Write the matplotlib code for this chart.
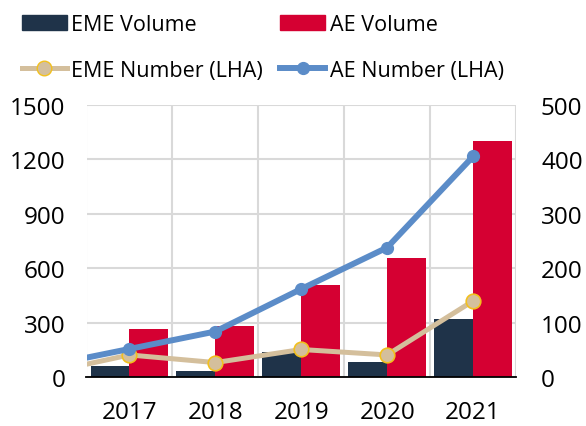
import numpy as np
from matplotlib import pyplot as plt
from matplotlib.lines import Line2D
from matplotlib.patches import Patch

plt.rcParams['font.family'] = ['Open Sans', 'DejaVu Sans']

years = ['2017', '2018', '2019', '2020', '2021']
eme_volume = [60, 33, 138, 83, 321]
ae_volume = [266, 284, 508, 655, 1299]

# line series include a 2016 point which is clipped at the left edge
line_years = [2016, 2017, 2018, 2019, 2020, 2021]
eme_number = [7, 41, 27, 51, 41, 140]
ae_number = [20, 52, 84, 162, 238, 405]

navy = '#1f3349'
red = '#d50032'
tan = '#d4bf9c'
gold = '#f2c01e'
blue = '#5b8cc8'

fig = plt.figure(figsize=(5.86, 4.27), dpi=100)
ax = fig.add_axes([86.5 / 586, 1 - 378.3 / 427, (516 - 86.5) / 586, (378.3 - 105.7) / 427])
ax2 = ax.twinx()

x = np.arange(len(years))
w = 0.453
ax.bar(x - w / 2, eme_volume, w, color=navy, zorder=2)
ax.bar(x + w / 2, ae_volume, w, color=red, zorder=2)

xl = np.array(line_years) - 2017
ax2.plot(xl, eme_number, color=tan, lw=3.6, marker='o', ms=10.5,
         mfc=tan, mec=gold, mew=1.2, clip_on=True)
ax2.plot(xl, ae_number, color=blue, lw=4.3, marker='o', ms=8.5,
         mfc=blue, mec=blue, clip_on=True)

ax.set_xlim(-0.5, 4.5)
ax2.set_xlim(-0.5, 4.5)
ax.set_ylim(0, 1500)
ax2.set_ylim(0, 500)
ax.set_yticks(range(0, 1501, 300))
ax2.set_yticks(range(0, 501, 100))
ax.set_xticks(x)
ax.set_xticklabels(years)

# category boundary gridlines and horizontal gridlines
for b in np.arange(-0.5, 5, 1):
    ax.axvline(b, color='#d9d9d9', lw=1.5, zorder=0)
ax.yaxis.grid(True, color='#d9d9d9', lw=1.5, zorder=0)
ax.set_axisbelow(True)

for a in (ax, ax2):
    for s in ('top', 'left', 'right'):
        a.spines[s].set_visible(False)
    a.tick_params(length=0, labelsize=17.5)
ax.spines['bottom'].set_visible(False)
ax2.spines['bottom'].set_color('black')
ax2.spines['bottom'].set_linewidth(1.3)
ax.tick_params(axis='y', pad=15)
ax2.tick_params(axis='y', pad=18)
ax.tick_params(axis='x', pad=16)
for lab in ax2.get_yticklabels():
    lab.set_horizontalalignment('left')

handles = [
    Patch(color=navy, label='EME Volume'),
    Line2D([], [], color=tan, lw=3.6, marker='o', ms=10.5, mfc=tan, mec=gold,
           label='EME Number (LHA)'),
    Patch(color=red, label='AE Volume'),
    Line2D([], [], color=blue, lw=4.3, marker='o', ms=8.5, label='AE Number (LHA)'),
]
fig.legend(handles=handles, ncol=2, loc='upper left', bbox_to_anchor=(0.022, 0.985),
           frameon=False, fontsize=15.5, handlelength=2.1, handletextpad=0.2,
           columnspacing=0.8, labelspacing=1.15, borderaxespad=0)

fig.savefig('out.png', dpi=100)
